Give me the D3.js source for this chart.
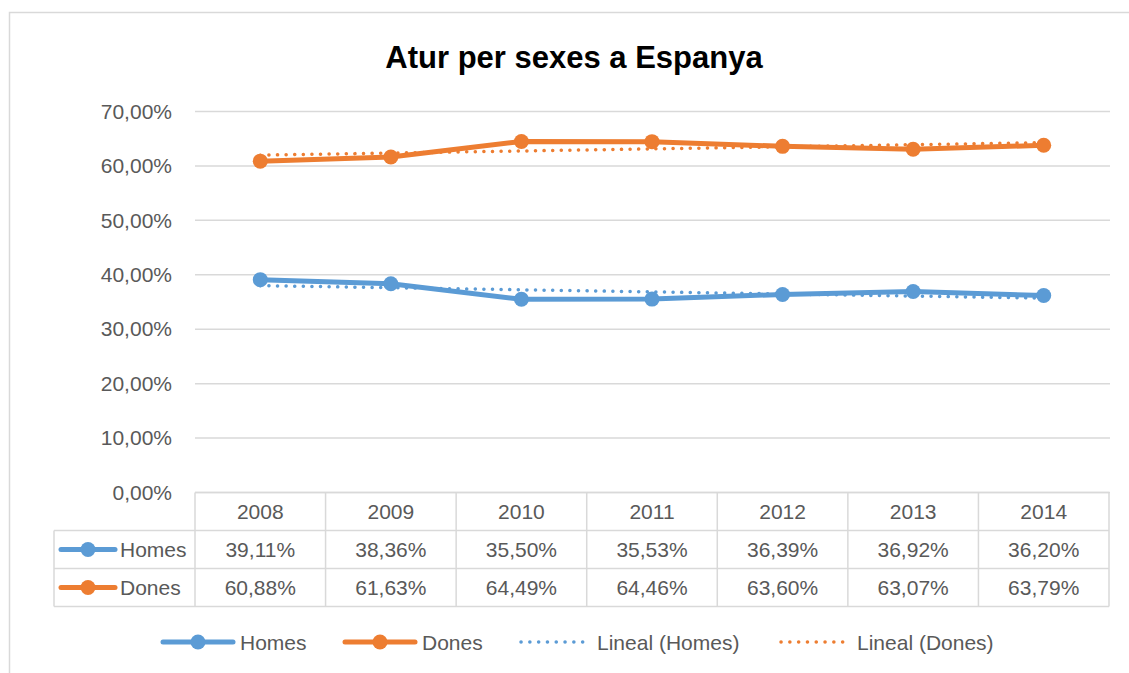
<!DOCTYPE html>
<html>
<head>
<meta charset="utf-8">
<script src="https://cdn.jsdelivr.net/npm/d3@7"></script>
<style>
  html, body { margin: 0; padding: 0; background: #fff; }
  svg { display: block; font-family: "Liberation Sans", Arial, sans-serif; }
</style>
</head>
<body>
<svg id="chart" width="1129" height="673"></svg>
<script>
const title = "Atur per sexes a Espanya";
const years = ["2008", "2009", "2010", "2011", "2012", "2013", "2014"];
const homes = [39.11, 38.36, 35.50, 35.53, 36.39, 36.92, 36.20];
const dones = [60.88, 61.63, 64.49, 64.46, 63.60, 63.07, 63.79];
const yTicks = [0, 10, 20, 30, 40, 50, 60, 70];
const seriesNames = ["Homes", "Dones"];
const trendNames = ["Lineal (Homes)", "Lineal (Dones)"];

const BLUE = "#5B9BD5", ORANGE = "#ED7D31", TEXT = "#595959", GRID = "#D9D9D9";
const loc = d3.formatLocale({decimal: ",", thousands: ".", grouping: [3], currency: ["", "€"]});
const fmt = v => loc.format(".2f")(v) + "%";

const svg = d3.select("#chart");

// outer chart border
svg.append("rect").attr("x", 9.5).attr("y", 12.5).attr("width", 1200).attr("height", 700)
  .attr("fill", "#fff").attr("stroke", GRID).attr("stroke-width", 1.5);

// title
svg.append("text").attr("x", 574).attr("y", 68).attr("text-anchor", "middle")
  .attr("font-size", 31).attr("font-weight", "bold").attr("fill", "#000").text(title);

const pL = 195, pR = 1109, pT = 111.5, pB = 492.5;
const x = d3.scaleBand().domain(years).range([pL, pR]);
const y = d3.scaleLinear().domain([0, 70]).range([pB, pT]);

// gridlines
svg.append("g").selectAll("line").data(yTicks).join("line")
  .attr("x1", pL).attr("x2", pR + 1)
  .attr("y1", d => y(d)).attr("y2", d => y(d))
  .attr("stroke", GRID).attr("stroke-width", 1.5);

// y axis labels
const yAxis = d3.axisLeft(y).tickValues(yTicks).tickFormat(fmt).tickSize(0).tickPadding(23);
const gy = svg.append("g").attr("transform", `translate(${pL},0)`).call(yAxis);
gy.select(".domain").remove();
gy.selectAll("text").attr("font-size", 21).attr("fill", TEXT)
  .attr("font-family", "Liberation Sans, Arial, sans-serif");

// data table
const rowH = 38;
const tableTop = pB;
const tLeft = 54;
const tg = svg.append("g");
function ln(x1, y1, x2, y2) {
  tg.append("line").attr("x1", x1).attr("y1", y1).attr("x2", x2).attr("y2", y2)
    .attr("stroke", GRID).attr("stroke-width", 1.5);
}
ln(pL, tableTop, pR, tableTop);
ln(tLeft, tableTop + rowH, pR, tableTop + rowH);
ln(tLeft, tableTop + 2 * rowH, pR, tableTop + 2 * rowH);
ln(tLeft, tableTop + 3 * rowH, pR, tableTop + 3 * rowH);
ln(tLeft, tableTop + rowH, tLeft, tableTop + 3 * rowH);
years.forEach(yr => ln(x(yr), tableTop, x(yr), tableTop + 3 * rowH));
ln(pR, tableTop, pR, tableTop + 3 * rowH);

tg.selectAll("text.yr").data(years).join("text").attr("class", "yr")
  .attr("x", d => x(d) + x.bandwidth() / 2).attr("y", tableTop + rowH / 2)
  .attr("dy", "0.36em").attr("text-anchor", "middle")
  .attr("font-size", 21).attr("fill", TEXT).text(d => d);

const series = [
  {name: seriesNames[0], values: homes, color: BLUE, trend: trendNames[0]},
  {name: seriesNames[1], values: dones, color: ORANGE, trend: trendNames[1]}
];

function lineKey(g, cx, cy, color, halfW) {
  g.append("line").attr("x1", cx - halfW).attr("x2", cx + halfW).attr("y1", cy).attr("y2", cy)
    .attr("stroke", color).attr("stroke-width", 5).attr("stroke-linecap", "round");
  g.append("circle").attr("cx", cx).attr("cy", cy).attr("r", 7.5).attr("fill", color);
}

series.forEach((s, i) => {
  const cy = tableTop + rowH * (i + 1) + rowH / 2;
  lineKey(tg, 88, cy, s.color, 27);
  tg.append("text").attr("x", 120).attr("y", cy).attr("dy", "0.36em")
    .attr("font-size", 21).attr("fill", TEXT).text(s.name);
  tg.selectAll("text.v" + i).data(s.values).join("text").attr("class", "v" + i)
    .attr("x", (d, j) => x(years[j]) + x.bandwidth() / 2).attr("y", cy)
    .attr("dy", "0.36em").attr("text-anchor", "middle")
    .attr("font-size", 21).attr("fill", TEXT).text(d => fmt(d));
});

// linear trendlines (least squares, like Excel "Lineal")
function linearFit(vals) {
  const n = vals.length;
  const xs = vals.map((_, i) => i + 1);
  const mx = d3.mean(xs), my = d3.mean(vals);
  let sxy = 0, sxx = 0;
  xs.forEach((xv, i) => { sxy += (xv - mx) * (vals[i] - my); sxx += (xv - mx) ** 2; });
  const b = sxy / sxx, a = my - b * mx;
  return [a + b * 1, a + b * n];
}

const cx = yr => x(yr) + x.bandwidth() / 2;
const plot = svg.append("g");

series.forEach(s => {
  const [t0, t1] = linearFit(s.values);
  plot.append("line")
    .attr("x1", cx(years[0])).attr("y1", y(t0))
    .attr("x2", cx(years[years.length - 1])).attr("y2", y(t1))
    .attr("stroke", s.color).attr("stroke-width", 3.5)
    .attr("stroke-linecap", "round").attr("stroke-dasharray", "0.1 8.5");
});

series.forEach(s => {
  const line = d3.line().x((d, i) => cx(years[i])).y(d => y(d));
  plot.append("path").datum(s.values).attr("d", line)
    .attr("fill", "none").attr("stroke", s.color).attr("stroke-width", 5)
    .attr("stroke-linejoin", "round").attr("stroke-linecap", "round");
  plot.selectAll(null).data(s.values).join("circle")
    .attr("cx", (d, i) => cx(years[i])).attr("cy", d => y(d))
    .attr("r", 7.5).attr("fill", s.color);
});

// bottom legend
const lg = svg.append("g");
const ly = 642;
lineKey(lg, 198, ly, BLUE, 35);
lg.append("text").attr("x", 240).attr("y", ly).attr("dy", "0.36em").attr("font-size", 21).attr("fill", TEXT).text(seriesNames[0]);
lineKey(lg, 380, ly, ORANGE, 35);
lg.append("text").attr("x", 422).attr("y", ly).attr("dy", "0.36em").attr("font-size", 21).attr("fill", TEXT).text(seriesNames[1]);
function dotKey(x0, color) {
  lg.append("line").attr("x1", x0).attr("x2", x0 + 62).attr("y1", ly).attr("y2", ly)
    .attr("stroke", color).attr("stroke-width", 3.5).attr("stroke-linecap", "round")
    .attr("stroke-dasharray", "0.1 8.7");
}
dotKey(521, BLUE);
lg.append("text").attr("x", 597).attr("y", ly).attr("dy", "0.36em").attr("font-size", 21).attr("fill", TEXT).text(trendNames[0]);
dotKey(781, ORANGE);
lg.append("text").attr("x", 857).attr("y", ly).attr("dy", "0.36em").attr("font-size", 21).attr("fill", TEXT).text(trendNames[1]);
</script>
</body>
</html>
